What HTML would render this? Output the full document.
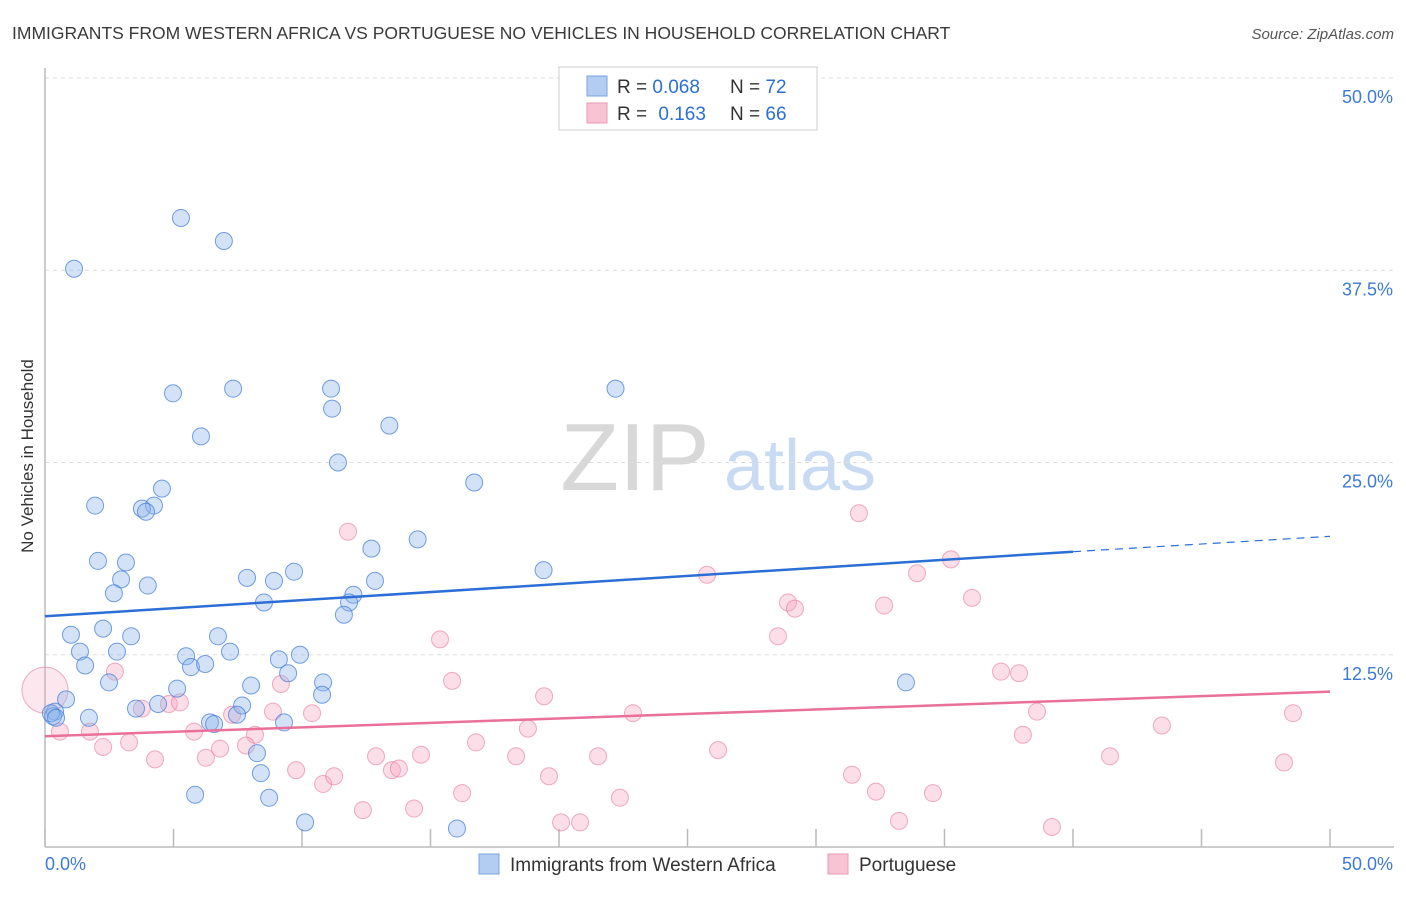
<!DOCTYPE html>
<html><head><meta charset="utf-8"><style>
body{margin:0;background:#fff;font-family:"Liberation Sans",sans-serif;}
svg text{font-family:"Liberation Sans",sans-serif;}
</style></head><body>
<svg id="chart" width="1406" height="892" xmlns="http://www.w3.org/2000/svg">
<text x="12" y="39" font-size="17.5" fill="#3a3a3a">IMMIGRANTS FROM WESTERN AFRICA VS PORTUGUESE NO VEHICLES IN HOUSEHOLD CORRELATION CHART</text>
<text x="1394" y="39" font-size="15" fill="#555" text-anchor="end" font-style="italic">Source: ZipAtlas.com</text>
<text transform="translate(33,456) rotate(-90)" font-size="17" fill="#333" text-anchor="middle">No Vehicles in Household</text>
<g><text x="635" y="490" font-size="96" fill="#d8d8d8" text-anchor="middle" font-family="Liberation Serif,serif">ZIP</text><text x="800" y="490" font-size="72" fill="#c9dbf2" text-anchor="middle">atlas</text></g>
<g id="grid"></g><g id="axes"></g><g id="pts"></g><g id="lines"></g>
<g>
<rect x="559" y="67" width="258" height="63" fill="#fff" stroke="#ccc"/>
<rect x="587" y="76" width="20" height="20" fill="#b3cdf2" stroke="#7aa3e0"/>
<rect x="587" y="103" width="20" height="20" fill="#f8c4d4" stroke="#e89ab3"/>
<text x="617" y="93" font-size="19" fill="#333">R = <tspan fill="#2b6fd6">0.068</tspan><tspan x="730">N = </tspan><tspan fill="#2b6fd6">72</tspan></text>
<text x="617" y="120" font-size="19" fill="#333">R = <tspan fill="#2b6fd6" dx="6">0.163</tspan><tspan x="730">N = </tspan><tspan fill="#2b6fd6">66</tspan></text>
</g>
<g>
<rect x="479" y="854" width="20" height="20" fill="#b3cdf2" stroke="#7aa3e0"/>
<text x="510" y="871" font-size="19" fill="#333">Immigrants from Western Africa</text>
<rect x="828" y="854" width="20" height="20" fill="#f8c4d4" stroke="#e89ab3"/>
<text x="859" y="871" font-size="19" fill="#333">Portuguese</text>
</g>
</svg>
<script>
const blueX=[1.13,5.29,6.96,4.98,7.32,11.13,11.17,22.2,6.07,13.4,11.4,16.7,1.95,4.24,3.77,3.93,4.55,14.5,12.7,19.4,2.06,3.15,2.96,2.68,4.0,7.86,8.91,9.69,12.84,12.0,11.83,8.52,11.63,1.01,2.26,3.35,6.73,1.36,2.8,5.49,7.2,9.92,1.56,5.68,6.23,9.1,9.46,2.49,5.14,8.02,10.82,10.78,0.82,0.39,0.31,4.4,3.54,7.67,1.71,7.47,6.42,6.58,9.3,8.25,8.4,5.84,8.72,10.12,16.03,33.5,0.23,0.43];
const blueY=[37.6,40.9,39.4,29.5,29.8,29.8,28.5,29.8,26.7,27.4,25.0,23.7,22.2,22.2,22.0,21.8,23.3,20.0,19.4,18.0,18.6,18.5,17.4,16.5,17.0,17.5,17.3,17.9,17.3,16.4,15.9,15.9,15.1,13.8,14.2,13.7,13.7,12.7,12.7,12.4,12.7,12.5,11.8,11.7,11.9,12.2,11.3,10.7,10.3,10.5,10.7,9.9,9.6,8.8,8.5,9.3,9.0,9.2,8.4,8.6,8.1,8.0,8.1,6.1,4.8,3.4,3.2,1.6,1.2,10.7,8.7,8.4];
const pinkX=[0,0.58,1.75,2.72,3.77,4.82,5.25,5.8,2.26,3.27,4.28,6.26,6.81,7.28,8.17,7.82,9.18,8.87,10.39,9.77,10.82,11.25,11.79,12.88,12.37,13.5,13.77,14.63,14.36,15.37,15.84,16.23,16.77,18.33,18.79,19.42,19.61,20.08,20.82,21.52,22.37,22.88,25.76,26.19,28.52,28.91,29.18,31.4,31.67,32.33,32.65,33.23,33.93,34.55,35.25,36.07,37.2,37.9,38.6,38.05,39.18,41.44,43.46,48.21,48.56];
const pinkY=[10.2,7.5,7.5,11.4,9.0,9.3,9.4,7.5,6.5,6.8,5.7,5.8,6.4,8.6,7.3,6.6,10.6,8.8,8.7,5.0,4.1,4.6,20.5,5.9,2.4,5.0,5.1,6.0,2.5,13.5,10.8,3.5,6.8,5.9,7.7,9.8,4.6,1.6,1.6,5.9,3.2,8.7,17.7,6.3,13.7,15.9,15.5,4.7,21.7,3.6,15.7,1.7,17.8,3.5,18.7,16.2,11.4,11.3,8.8,7.3,1.3,5.9,7.9,5.5,8.7];
const blueTrend=[15.0,19.2,20.2]; const blueTrendX=[0,40,50];
const pinkTrend=[7.2,10.1]; const pinkTrendX=[0,50];
const yTicks=[12.5,25,37.5,50]; const yTickLabels=["12.5%","25.0%","37.5%","50.0%"];
const xTicks=[0,5,10,15,20,25,30,35,40,45,50];
const NS="http://www.w3.org/2000/svg";
const X0=45,X1=1330,Y0=847,Y1=78;
const sx=v=>X0+(X1-X0)*v/50, sy=v=>Y0-(Y0-Y1)*v/50;
function mk(tag,attrs,parent){const e=document.createElementNS(NS,tag);for(const k in attrs)e.setAttribute(k,attrs[k]);document.getElementById(parent).appendChild(e);return e;}
yTicks.forEach((t,i)=>{
 const g=mk('line',{x1:X0,x2:1394,y1:sy(t),y2:sy(t),stroke:'#ddd','stroke-dasharray':'4,4'},'grid');
 
 
 const l=mk('text',{x:1393,y:sy(t)+25,'font-size':18,fill:'#3d7ad6','text-anchor':'end'},'axes');
 l.textContent=yTickLabels[i];
 
 
});
const ax=mk('line',{x1:X0,x2:X0,y1:68,y2:Y0,stroke:'#bbb','stroke-width':1.5},'axes');


const bx=mk('line',{x1:X0,x2:1394,y1:Y0,y2:Y0,stroke:'#bbb','stroke-width':1.5},'axes');


xTicks.forEach(t=>{const tk=mk('line',{x1:sx(t),x2:sx(t),y1:Y0-18,y2:Y0,stroke:'#bbb','stroke-width':1.5},'axes');
 
 });
const xl0=mk('text',{x:45,y:870,'font-size':18,fill:'#3d7ad6'},'axes');xl0.textContent='0.0%';


const xl1=mk('text',{x:1393,y:870,'font-size':18,fill:'#3d7ad6','text-anchor':'end'},'axes');xl1.textContent='50.0%';


pinkX.forEach((x,i)=>{const c=mk('circle',{cx:sx(x),cy:sy(pinkY[i]),r:i===0?23:8.5,fill:i===0?'rgba(245,160,188,0.25)':'rgba(245,160,188,0.35)',stroke:'rgba(230,120,155,0.6)','stroke-width':1},'pts');
 
 });
blueX.forEach((x,i)=>{const c=mk('circle',{cx:sx(x),cy:sy(blueY[i]),r:8.5,fill:'rgba(140,180,235,0.38)',stroke:'rgba(60,120,215,0.7)','stroke-width':1},'pts');
 
 });
const bl=mk('line',{x1:sx(blueTrendX[0]),y1:sy(blueTrend[0]),x2:sx(blueTrendX[1]),y2:sy(blueTrend[1]),stroke:'#2b6fd6','stroke-width':2.5},'lines');


const bd=mk('line',{x1:sx(blueTrendX[1]),y1:sy(blueTrend[1]),x2:sx(blueTrendX[2]),y2:sy(blueTrend[2]),stroke:'#2b6fd6','stroke-width':1.2,'stroke-dasharray':'8,6'},'lines');


const pl=mk('line',{x1:sx(pinkTrendX[0]),y1:sy(pinkTrend[0]),x2:sx(pinkTrendX[1]),y2:sy(pinkTrend[1]),stroke:'#e8709a','stroke-width':2.5},'lines');


</script>
</body></html>
